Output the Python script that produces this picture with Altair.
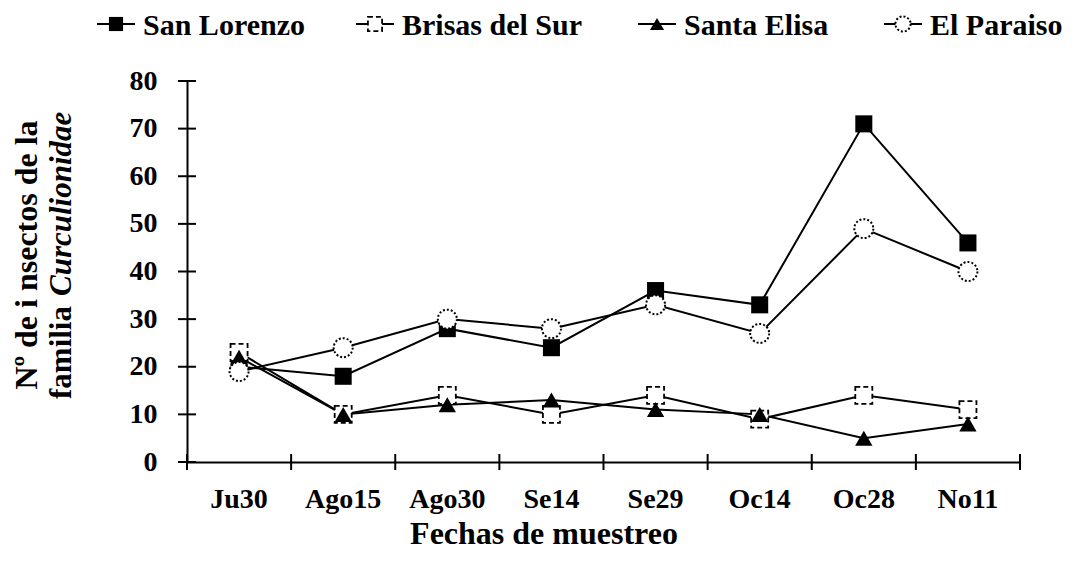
import altair as alt
import pandas as pd

# ---- data ----
dates = ["Ju30", "Ago15", "Ago30", "Se14", "Se29", "Oc14", "Oc28", "No11"]
series_names = ["San Lorenzo", "Brisas del Sur", "Santa Elisa", "El Paraiso"]
san_lorenzo = [20, 18, 28, 24, 36, 33, 71, 46]
brisas_del_sur = [23, 10, 14, 10, 14, 9, 14, 11]
santa_elisa = [22, 10, 12, 13, 11, 10, 5, 8]
el_paraiso = [19, 24, 30, 28, 33, 27, 49, 40]
y_ticks = [0, 10, 20, 30, 40, 50, 60, 70, 80]

x_title = "Fechas de muestreo"
y_title_1 = "Nº de i nsectos de la"
y_title_2a = "familia"
y_title_2b = "Curculionidae"

# ---- layout ----
W, H = 833, 381
FONT = "Liberation Serif"

all_series = [san_lorenzo, brisas_del_sur, santa_elisa, el_paraiso]
rows = []
for name, vals in zip(series_names, all_series):
    for i, (d, v) in enumerate(zip(dates, vals)):
        rows.append({"fecha": d, "serie": name, "valor": v, "idx": i})
df = pd.DataFrame(rows)

xscale = alt.Scale(domain=dates, type="band", paddingInner=0, paddingOuter=0)
yscale = alt.Scale(domain=[0, 80], nice=False, zero=True)

x_axis = alt.Axis(title=None, ticks=False, tickSize=0, labelFont=FONT, labelFontSize=28,
                  labelFontWeight="bold", labelColor="black", labelBaseline="alphabetic",
                  labelPadding=45, labelAngle=0, domainColor="black", domainWidth=2,
                  grid=False)
y_axis = alt.Axis(title=None, values=y_ticks, ticks=False, tickSize=0, labelFont=FONT,
                  labelFontSize=28, labelFontWeight="bold", labelColor="black",
                  labelPadding=30, domainColor="black", domainWidth=2, grid=False)


def X(field="fecha:N", band=0.5):
    return alt.X(field, scale=xscale, axis=x_axis, bandPosition=band)


def Y(field="valor:Q"):
    return alt.Y(field, scale=yscale, axis=y_axis)


lines = alt.Chart(df).mark_line(color="black", strokeWidth=2).encode(
    x=X(), y=Y(), detail="serie:N", order=alt.Order("idx:Q")
)

styles = {
    "San Lorenzo": dict(shape="square", filled=True, fill="black", stroke="black",
                        strokeWidth=0, size=290),
    "Brisas del Sur": dict(shape="square", filled=True, fill="white", stroke="black",
                           strokeWidth=1.8, strokeDash=[5, 3], size=290),
    "Santa Elisa": dict(shape="triangle-up", filled=True, fill="black", stroke="black",
                        strokeWidth=0, size=300),
    "El Paraiso": dict(shape="circle", filled=True, fill="white", stroke="black",
                       strokeWidth=2, strokeDash=[2, 2], size=361),
}

point_layers = []
for name in series_names:
    sub = df[df["serie"] == name]
    point_layers.append(
        alt.Chart(sub).mark_point(opacity=1, **styles[name]).encode(x=X(), y=Y())
    )

# crossing axis ticks (data driven through the scales)
yt = alt.Chart(pd.DataFrame({"v": y_ticks})).mark_rule(color="black", strokeWidth=2).encode(
    y=Y("v:Q"), x=alt.value(-9), x2=alt.value(9)
)
xt_df = pd.DataFrame({"fecha": dates})
xt = alt.Chart(xt_df).mark_rule(color="black", strokeWidth=2).encode(
    x=X(band=0), y=alt.value(H - 8), y2=alt.value(H + 8)
)
xt_end = alt.Chart(xt_df.tail(1)).mark_rule(color="black", strokeWidth=2).encode(
    x=X(band=1), y=alt.value(H - 8), y2=alt.value(H + 8)
)

# ---- custom legend on top ----
dummy = pd.DataFrame({"k": [0]})
legend_marker_x = [-71, 188, 470, 716]
legend_layers = []
LY = -57
for name, mx in zip(series_names, legend_marker_x):
    legend_layers.append(
        alt.Chart(dummy).mark_rule(color="black", strokeWidth=2).encode(
            x=alt.value(mx - 19), x2=alt.value(mx + 19), y=alt.value(LY))
    )
    st = dict(styles[name])
    st["size"] = 200 if st["shape"] != "circle" else 230
    legend_layers.append(
        alt.Chart(dummy).mark_point(opacity=1, **st).encode(x=alt.value(mx), y=alt.value(LY))
    )
    legend_layers.append(
        alt.Chart(dummy).mark_text(font=FONT, fontSize=30, fontWeight="bold", color="black",
                                   align="left", baseline="alphabetic").encode(
            x=alt.value(mx + 27), y=alt.value(LY + 11), text=alt.value(name))
    )

# ---- axis titles ----
title_layers = [
    alt.Chart(dummy).mark_text(font=FONT, fontSize=32, fontWeight="bold", color="black",
                               align="center", baseline="alphabetic").encode(
        x=alt.value(357), y=alt.value(H + 82), text=alt.value(x_title)),
    alt.Chart(dummy).mark_text(font=FONT, fontSize=32, fontWeight="bold", color="black",
                               align="center", baseline="middle", angle=270).encode(
        x=alt.value(-160), y=alt.value(174), text=alt.value(y_title_1)),
    alt.Chart(dummy).mark_text(font=FONT, fontSize=31, fontWeight="bold", color="black",
                               align="left", baseline="middle", angle=270).encode(
        x=alt.value(-125), y=alt.value(318), text=alt.value(y_title_2a)),
    alt.Chart(dummy).mark_text(font=FONT, fontSize=31, fontWeight="bold", fontStyle="italic",
                               color="black", align="left", baseline="middle",
                               angle=270).encode(
        x=alt.value(-125), y=alt.value(215), text=alt.value(y_title_2b)),
]

chart = alt.layer(
    lines, *point_layers, yt, xt, xt_end, *legend_layers, *title_layers
).properties(
    width=W, height=H,
    padding={"left": 179, "top": 73, "right": 47, "bottom": 92},
    autosize=alt.AutoSizeParams(type="none"),
).configure_view(stroke=None)

chart.save("out.html", embed_options={"renderer": "svg", "actions": False})
